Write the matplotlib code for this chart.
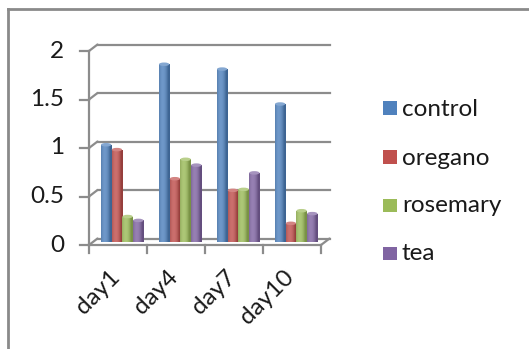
import numpy as np
import matplotlib
matplotlib.use("Agg")
import matplotlib.pyplot as plt
from matplotlib.patches import Rectangle, Ellipse
from matplotlib.transforms import ScaledTranslation
from matplotlib.colors import to_rgb

# ---- data ----
days = ["day1", "day4", "day7", "day10"]
series = ["control", "oregano", "rosemary", "tea"]
control = [1.00, 1.83, 1.78, 1.42]
oregano = [0.95, 0.65, 0.53, 0.19]
rosemary = [0.26, 0.85, 0.54, 0.32]
tea = [0.22, 0.79, 0.71, 0.29]
yticks = [0, 0.5, 1, 1.5, 2]
ytick_labels = ["0", "0.5", "1", "1.5", "2"]

colors = ["#4F81BD", "#C0504D", "#9BBB59", "#8064A2"]
values = [control, oregano, rosemary, tea]

plt.rcParams["font.family"] = ["Lato", "DejaVu Sans"]
FS = 17.5
TXT = "#1a1a1a"
W, H, DPI = 529, 349, 100
fig = plt.figure(figsize=(W / DPI, H / DPI), dpi=DPI)


def fx(px):
    return px / W


def fy(py):
    return 1 - py / H


# front plane of the plot area (pixels): x 89..321, y 245 (0) .. 51 (2)
left, right, y0, y2 = 89, 321, 245, 51
ax = fig.add_axes([fx(left), fy(y0), fx(right - left), (y0 - y2) / H])
ax.set_xlim(0, 4)
ax.set_ylim(0, 2)
ax.axis("off")

grid_c = "#8c8c8c"
depth_dx, depth_dy = 8.5, 6.5  # pixels toward the back wall
back = ax.transData + ScaledTranslation(depth_dx / DPI, depth_dy / DPI, fig.dpi_scale_trans)
mid = ax.transData + ScaledTranslation(depth_dx / 2 / DPI, depth_dy / 2 / DPI, fig.dpi_scale_trans)

# back wall gridlines and their connectors to the front value axis
for v, lab in zip(yticks, ytick_labels):
    ax.plot([0, 4], [v, v], color=grid_c, lw=1.6, transform=back, clip_on=False, zorder=1)
    ax.annotate("", xy=(0, v), xycoords=back, xytext=(0, v), textcoords=ax.transData,
                arrowprops=dict(arrowstyle="-", color=grid_c, lw=1.6, shrinkA=0, shrinkB=0))
    # front tick mark
    ax.plot([-9 / 58, 0], [v, v], color=grid_c, lw=1.6, clip_on=False, zorder=1)
    ax.text(-25 / 58, v, lab, ha="right", va="center", fontsize=FS, color=TXT)

# front value axis
ax.plot([0, 0], [0, 2], color=grid_c, lw=1.6, clip_on=False, zorder=1)
# front floor edge with category ticks
ax.plot([0, 4], [0, 0], color=grid_c, lw=1.6, clip_on=False, zorder=1)
for k in range(5):
    ax.plot([k, k], [0, -8 / 97], color=grid_c, lw=1.6, clip_on=False, zorder=1)
# right floor edge
ax.annotate("", xy=(4, 0), xycoords=back, xytext=(4, 0), textcoords=ax.transData,
            arrowprops=dict(arrowstyle="-", color=grid_c, lw=1.6, shrinkA=0, shrinkB=0))

# bars with a cylindrical shading
w = 0.185
n = 64
xs = np.linspace(-1, 1, n)
shade = np.clip(1 - (xs + 0.3) ** 2, 0, 1)
for i, (vals, col) in enumerate(zip(values, colors)):
    base = np.array(to_rgb(col))
    dark = base * 0.78
    light = base + (1 - base) * 0.18
    grad = dark[None, :] * (1 - shade[:, None]) + light[None, :] * shade[:, None]
    img = grad[None, :, :]
    for k, v in enumerate(vals):
        xc = k + 0.5 + (i - 1.5) * w
        bar = ax.bar(xc, v, width=w * 0.96, color=col, transform=mid, zorder=3,
                     linewidth=0, clip_on=False)[0]
        im = ax.imshow(img, extent=[xc - w * 0.48, xc + w * 0.48, 0, v], aspect="auto",
                       transform=mid, zorder=4, interpolation="bilinear")
        im.set_clip_path(bar)
        cap = Ellipse((xc, v), w * 0.96, 3.5 / 97, facecolor=base + (1 - base) * 0.3,
                      edgecolor="none", transform=mid, zorder=5, clip_on=False)
        ax.add_patch(cap)
ax.set_xlim(0, 4)
ax.set_ylim(0, 2)

# category labels
for k, d in enumerate(days):
    ax.annotate(d, xy=(k + 0.5, 0), xycoords="data", xytext=(6, -21), textcoords="offset pixels",
                rotation=45, ha="right", va="top", fontsize=FS, color=TXT)

# legend
leg_y = [108, 157, 205, 253]
for name, col, yc in zip(series, colors, leg_y):
    fig.patches.append(Rectangle((fx(383), fy(yc + 7)), fx(13.5), 13.5 / H, transform=fig.transFigure,
                                 facecolor=col, edgecolor="none"))
    fig.text(fx(402), fy(yc + 7.5), name, ha="left", va="baseline", fontsize=FS, color=TXT)

# chart-area border (runs off the right and bottom edges)
border_c = "#8a8a8a"
fig.add_artist(plt.Line2D([fx(7.5), fx(7.5)], [fy(8.5), fy(400)], color=border_c, lw=2,
                          transform=fig.transFigure))
fig.add_artist(plt.Line2D([fx(7.5), fx(600)], [fy(8.5), fy(8.5)], color=border_c, lw=2,
                          transform=fig.transFigure))

fig.savefig("out.png", dpi=DPI)
